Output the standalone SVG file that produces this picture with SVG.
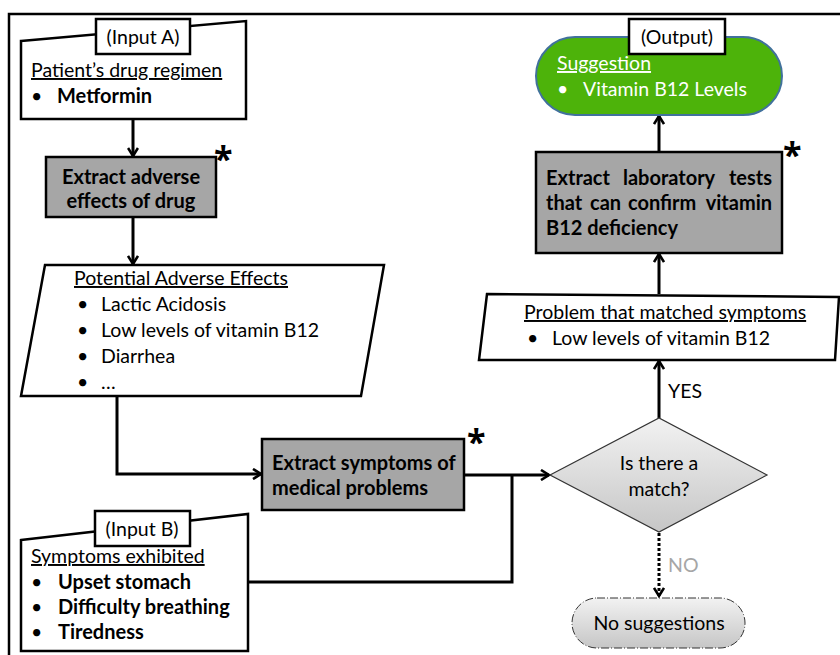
<svg xmlns="http://www.w3.org/2000/svg" width="840" height="655" viewBox="0 0 840 655">
  <defs>
    <linearGradient id="greyFade" x1="0" y1="0" x2="0" y2="1">
      <stop offset="0" stop-color="#f2f2f2"/>
      <stop offset="1" stop-color="#c6c6c6"/>
    </linearGradient>
    <marker id="chev" viewBox="0 0 12 12" refX="10" refY="6" markerWidth="12" markerHeight="12" markerUnits="userSpaceOnUse" orient="auto">
      <path d="M2,1 L10,6 L2,11" fill="none" stroke="#000" stroke-width="2.6"/>
    </marker>
    <style>
      .t { font-family: Lato, "Open Sans", sans-serif; font-size: 19.5px; fill: #000; }
      .b { font-weight: bold; font-size: 20px; }
      .u { text-decoration: underline; }
      .c { text-anchor: middle; }
      .e { text-anchor: end; }
      .w { fill: #fff; }
      .io { fill: #fff; stroke: #000; stroke-width: 2.5; stroke-linejoin: miter; }
      .tag { fill: #fff; stroke: #000; stroke-width: 2.5; }
      .proc { fill: #a6a6a6; stroke: #000; stroke-width: 2.5; }
      .star { font-family: "Open Sans", sans-serif; font-weight: bold; font-size: 34px; fill: #000; }
      .link { fill: none; stroke: #000; stroke-width: 3; }
    </style>
  </defs>

  <rect width="840" height="655" fill="#fff"/>
  <!-- frame -->
  <rect x="9" y="14" width="840" height="660" fill="none" stroke="#000" stroke-width="2.5"/>

  <!-- connectors -->
  <g id="connectors">
    <line class="link" x1="133" y1="119" x2="133" y2="156" marker-end="url(#chev)"/>
    <line class="link" x1="133" y1="217" x2="133" y2="264" marker-end="url(#chev)"/>
    <path class="link" d="M117,396 V474 H261" marker-end="url(#chev)"/>
    <line class="link" x1="464" y1="475" x2="549" y2="475" marker-end="url(#chev)"/>
    <path class="link" d="M248,582 H512 V475"/>
    <line class="link" x1="659" y1="418" x2="659" y2="361" marker-end="url(#chev)"/>
    <line class="link" x1="659" y1="294" x2="659" y2="254" marker-end="url(#chev)"/>
    <line class="link" x1="659" y1="152" x2="659" y2="116" marker-end="url(#chev)"/>
    <line class="link" x1="659" y1="533" x2="659" y2="596" stroke-dasharray="3 2" marker-end="url(#chev)"/>
    <text class="t" x="668" y="398">YES</text>
    <text class="t" x="668" y="572" style="fill:#a6a6a6">NO</text>
  </g>

  <!-- input A: drug regimen -->
  <g id="inputA">
    <polygon class="io" points="21,41 246,21 246,119 21,119"/>
    <rect class="tag" x="96" y="19" width="94" height="35"/>
    <text class="t c" x="143" y="44">(Input A)</text>
    <text class="t u" x="31" y="77">Patient’s drug regimen</text>
    <text class="t" x="31" y="103">•</text>
    <text class="t b" x="57" y="103">Metformin</text>
  </g>

  <!-- extract adverse effects -->
  <g id="extractAdverse">
    <rect class="proc" x="46" y="157" width="170" height="60"/>
    <text class="t b c" x="131" y="184">Extract adverse</text>
    <text class="t b c" x="131" y="208">effects of drug</text>
    <text class="star" x="214" y="171">*</text>
  </g>

  <!-- potential adverse effects -->
  <g id="adverseEffects">
    <polygon class="io" points="45,265 384,265 361,396 21,396"/>
    <text class="t u" x="74" y="285">Potential Adverse Effects</text>
    <text class="t" x="77" y="311">•</text><text class="t" x="101" y="311">Lactic Acidosis</text>
    <text class="t" x="77" y="337">•</text><text class="t" x="101" y="337">Low levels of vitamin B12</text>
    <text class="t" x="77" y="363">•</text><text class="t" x="101" y="363">Diarrhea</text>
    <text class="t" x="77" y="389">•</text><text class="t" x="101" y="389">…</text>
  </g>

  <!-- extract symptoms -->
  <g id="extractSymptoms">
    <rect class="proc" x="262" y="439" width="202" height="71"/>
    <text class="t b" x="272" y="470">Extract symptoms of</text>
    <text class="t b" x="272" y="495">medical problems</text>
    <text class="star" x="467" y="454">*</text>
  </g>

  <!-- input B: symptoms -->
  <g id="inputB">
    <polygon class="io" points="21,540 248,514 248,651 21,651"/>
    <rect class="tag" x="95" y="511" width="95" height="35"/>
    <text class="t c" x="142" y="536">(Input B)</text>
    <text class="t u" x="31" y="563">Symptoms exhibited</text>
    <text class="t" x="31" y="589">•</text><text class="t b" x="58" y="589">Upset stomach</text>
    <text class="t" x="31" y="614">•</text><text class="t b" x="58" y="614">Difficulty breathing</text>
    <text class="t" x="31" y="639">•</text><text class="t b" x="58" y="639">Tiredness</text>
  </g>

  <!-- decision -->
  <g id="decision">
    <polygon points="550,475 659,418 767,475 659,532" fill="url(#greyFade)" stroke="#333" stroke-width="1.2"/>
    <text class="t c" x="659" y="470">Is there a</text>
    <text class="t c" x="659" y="496">match?</text>
  </g>

  <!-- no suggestions -->
  <g id="noSuggestions">
    <rect x="572" y="598" width="173" height="50" rx="25" fill="url(#greyFade)" stroke="#333" stroke-width="1" stroke-dasharray="8 2 1 2"/>
    <text class="t c" x="659" y="630">No suggestions</text>
  </g>

  <!-- matched problem -->
  <g id="matchedProblem">
    <polygon class="io" points="487,294 839,297 835,360 479,360"/>
    <text class="t u" x="524" y="319">Problem that matched symptoms</text>
    <text class="t" x="527" y="345">•</text><text class="t" x="552" y="345">Low levels of vitamin B12</text>
  </g>

  <!-- extract laboratory tests -->
  <g id="extractLab">
    <rect class="proc" x="536" y="152" width="246" height="101"/>
    <text class="t b" x="546" y="185">Extract</text>
    <text class="t b" x="623" y="185">laboratory</text>
    <text class="t b e" x="772" y="185">tests</text>
    <text class="t b" x="546" y="210">that</text>
    <text class="t b" x="590" y="210">can</text>
    <text class="t b" x="628" y="210">confirm</text>
    <text class="t b e" x="772" y="210">vitamin</text>
    <text class="t b" x="546" y="235">B12 deficiency</text>
    <text class="star" x="783" y="167">*</text>
  </g>

  <!-- output: suggestion -->
  <g id="suggestion">
    <rect x="536" y="37" width="246" height="78" rx="39" fill="#4db30a" stroke="#41719c" stroke-width="2"/>
    <rect class="tag" x="629" y="19" width="96" height="35"/>
    <text class="t c" x="677" y="44">(Output)</text>
    <text class="t u w" x="557" y="70">Suggestion</text>
    <text class="t w" x="557" y="96">•</text><text class="t w" x="583" y="96">Vitamin B12 Levels</text>
  </g>
</svg>
